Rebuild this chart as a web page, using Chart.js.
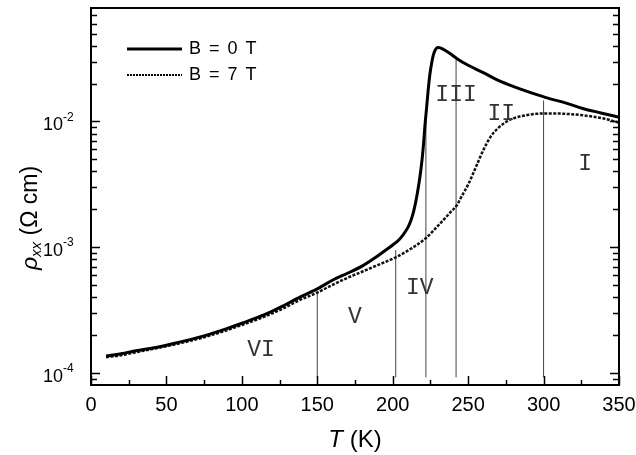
<!DOCTYPE html>
<html>
<head>
<meta charset="utf-8">
<script src="https://cdn.jsdelivr.net/npm/chart.js@4.4.0/dist/chart.umd.min.js"></script>
<style>
  html, body { margin: 0; background: #fff; }
  #wrap { width: 636px; height: 455px; }
</style>
</head>
<body>
<div id="wrap"><canvas id="rhoChart" width="636" height="455"></canvas></div>
<script>
// B = 0 T curve
const tempB0 = [10, 20, 30, 40, 50, 60, 75, 90, 100, 115, 125, 138.5, 150, 160, 170, 180, 190, 195, 200, 204, 207, 210, 212, 214, 216, 218, 219.4, 220.5, 221.4, 222.5, 223.4, 224.5, 226, 227, 228, 229, 230, 231, 233, 238, 242.6, 250, 260, 270, 282, 290, 301.6, 315, 326, 338, 350];
const rhoB0 = [1.36e-4, 1.42e-4, 1.5e-4, 1.57e-4, 1.66e-4, 1.77e-4, 1.97e-4, 2.25e-4, 2.48e-4, 2.9e-4, 3.3e-4, 4.0e-4, 4.65e-4, 5.45e-4, 6.2e-4, 7.1e-4, 8.5e-4, 9.4e-4, 1.04e-3, 1.14e-3, 1.26e-3, 1.43e-3, 1.62e-3, 1.95e-3, 2.55e-3, 3.6e-3, 4.9e-3, 6.8e-3, 9.4e-3, 1.3e-2, 1.72e-2, 2.3e-2, 3.0e-2, 3.4e-2, 3.66e-2, 3.82e-2, 3.88e-2, 3.87e-2, 3.78e-2, 3.47e-2, 3.16e-2, 2.8e-2, 2.45e-2, 2.12e-2, 1.86e-2, 1.72e-2, 1.55e-2, 1.4e-2, 1.27e-2, 1.17e-2, 1.08e-2];

// B = 7 T curve
const tempB7 = [10, 20, 30, 40, 50, 60, 75, 90, 100, 115, 125, 138.5, 150, 160, 170, 180, 190, 202, 212, 222, 230, 238, 243, 245, 250, 255, 260, 265, 270, 275, 280, 285, 290, 295, 301.6, 315, 326, 339, 350];
const rhoB7 = [1.33e-4, 1.38e-4, 1.46e-4, 1.54e-4, 1.63e-4, 1.73e-4, 1.92e-4, 2.18e-4, 2.4e-4, 2.8e-4, 3.15e-4, 3.8e-4, 4.35e-4, 5.0e-4, 5.7e-4, 6.4e-4, 7.2e-4, 8.3e-4, 9.7e-4, 1.18e-3, 1.48e-3, 1.88e-3, 2.2e-3, 2.45e-3, 3.15e-3, 4.3e-3, 5.9e-3, 7.6e-3, 8.9e-3, 9.9e-3, 1.06e-2, 1.1e-2, 1.13e-2, 1.15e-2, 1.16e-2, 1.15e-2, 1.12e-2, 1.06e-2, 9.8e-3];

// region boundaries (vertical lines)
const boundaryT = [150, 202, 222, 242, 300];
const boundaryTop = [4.3e-4, 9.5e-4, 1.22e-2, 3.1e-2, 1.47e-2];
const boundaryBottom = 9.2e-5;

// region labels
const regionNames = ['VI', 'V', 'IV', 'III', 'II', 'I'];
const regionT = [112.7, 175, 218, 242, 272, 327.5];
const regionRho = [1.52e-4, 2.78e-4, 4.73e-4, 1.64e-2, 1.14e-2, 4.56e-3];

const seriesNames = ['B = 0 T', 'B = 7 T'];
const xTickLabels = [0, 50, 100, 150, 200, 250, 300, 350];
const yDecades = [-4, -3, -2];
const xMin = 0, xMax = 350, yMin = 8e-5, yMax = 8e-2;

const toPoints = (xs, ys) => xs.map((x, i) => ({ x: x, y: ys[i] }));

const datasets = [
  {
    label: seriesNames[0],
    data: toPoints(tempB0, rhoB0),
    borderColor: '#000',
    borderWidth: 3,
    pointRadius: 0,
    cubicInterpolationMode: 'monotone'
  },
  {
    label: seriesNames[1],
    data: toPoints(tempB7, rhoB7),
    borderColor: '#111',
    borderWidth: 2.5,
    borderDash: [3, 1.5],
    pointRadius: 0,
    cubicInterpolationMode: 'monotone'
  }
];
boundaryT.forEach((t, i) => {
  datasets.push({
    label: 'boundary' + i,
    data: [{ x: t, y: boundaryBottom }, { x: t, y: boundaryTop[i] }],
    borderColor: '#444',
    borderWidth: 1,
    pointRadius: 0
  });
});

const sansFont = '"Liberation Sans", Arial, sans-serif';

const framePlugin = {
  id: 'frame',
  beforeDraw(chart) {
    const ctx = chart.ctx;
    ctx.save();
    ctx.fillStyle = '#fff';
    ctx.fillRect(0, 0, chart.width, chart.height);
    ctx.restore();
  },
  afterDraw(chart) {
    const ctx = chart.ctx;
    const a = chart.chartArea;
    const xs = chart.scales.x, ys = chart.scales.y;
    ctx.save();

    // box
    ctx.strokeStyle = '#000';
    ctx.lineWidth = 2;
    ctx.strokeRect(a.left, a.top, a.right - a.left, a.bottom - a.top);

    // x ticks (inward)
    ctx.lineWidth = 1.5;
    for (let v = xMin; v <= xMax; v += 25) {
      const px = Math.round(xs.getPixelForValue(v)) + 0.5;
      const len = v % 50 === 0 ? 9 : 5;
      ctx.beginPath();
      ctx.moveTo(px, a.bottom);
      ctx.lineTo(px, a.bottom - len);
      ctx.stroke();
    }
    // y ticks, left and right (inward)
    for (let d = -5; d <= -2; d++) {
      for (let m = 1; m <= 9; m++) {
        const v = m * Math.pow(10, d);
        if (v <= yMin * 1.001 || v >= yMax * 0.999) continue;
        const py = Math.round(ys.getPixelForValue(v)) + 0.5;
        const len = m === 1 ? 9 : 6;
        ctx.beginPath();
        ctx.moveTo(a.left, py);
        ctx.lineTo(a.left + len, py);
        ctx.moveTo(a.right, py);
        ctx.lineTo(a.right - len, py);
        ctx.stroke();
      }
    }

    // x tick labels
    ctx.fillStyle = '#000';
    ctx.font = '20px ' + sansFont;
    ctx.textAlign = 'center';
    ctx.textBaseline = 'middle';
    xTickLabels.forEach(v => {
      ctx.fillText(String(v), xs.getPixelForValue(v), 405);
    });

    // y tick labels 10^n
    yDecades.forEach(d => {
      const py = ys.getPixelForValue(Math.pow(10, d));
      ctx.font = '18px ' + sansFont;
      ctx.textAlign = 'right';
      ctx.textBaseline = 'middle';
      ctx.fillText('10', 63, py + 4);
      ctx.font = '12px ' + sansFont;
      ctx.textAlign = 'left';
      ctx.fillText('-' + Math.abs(d), 63, py - 4);
    });

    // x axis title: T (K)
    ctx.textBaseline = 'middle';
    ctx.font = 'italic 24px ' + sansFont;
    const wT = ctx.measureText('T').width;
    ctx.font = '24px ' + sansFont;
    const wK = ctx.measureText(' (K)').width;
    let x0 = (a.left + a.right) / 2 - (wT + wK) / 2;
    ctx.textAlign = 'left';
    ctx.font = 'italic 24px ' + sansFont;
    ctx.fillText('T', x0, 440);
    ctx.font = '24px ' + sansFont;
    ctx.fillText(' (K)', x0 + wT, 440);

    // y axis title: rho_xx (Ohm cm)
    ctx.save();
    ctx.translate(31, 218);
    ctx.rotate(-Math.PI / 2);
    ctx.font = 'italic 23px ' + sansFont;
    const wRho = ctx.measureText('\u03C1').width;
    ctx.font = 'italic 15px ' + sansFont;
    const wSub = ctx.measureText('xx').width;
    ctx.font = '23px ' + sansFont;
    const wUnit = ctx.measureText(' (\u03A9 cm)').width;
    let sx = -(wRho + wSub + wUnit) / 2;
    ctx.textAlign = 'left';
    ctx.font = 'italic 23px ' + sansFont;
    ctx.fillText('\u03C1', sx, 0);
    ctx.font = 'italic 15px ' + sansFont;
    ctx.fillText('xx', sx + wRho, 6);
    ctx.font = '23px ' + sansFont;
    ctx.fillText(' (\u03A9 cm)', sx + wRho + wSub, 0);
    ctx.restore();

    // legend
    ctx.lineWidth = 3;
    ctx.setLineDash([]);
    ctx.beginPath();
    ctx.moveTo(127, 49);
    ctx.lineTo(182, 49);
    ctx.stroke();
    ctx.lineWidth = 2;
    ctx.setLineDash([2, 1]);
    ctx.beginPath();
    ctx.moveTo(127, 75);
    ctx.lineTo(182, 75);
    ctx.stroke();
    ctx.setLineDash([]);
    ctx.font = '18px ' + sansFont;
    ctx.letterSpacing = '1.5px';
    ctx.textAlign = 'left';
    ctx.fillText(seriesNames[0], 189, 49);
    ctx.fillText(seriesNames[1], 189, 75);
    ctx.letterSpacing = '0px';

    // region labels
    ctx.fillStyle = '#333';
    ctx.font = '23px "Liberation Mono", "Courier New", monospace';
    ctx.textAlign = 'center';
    regionNames.forEach((name, i) => {
      ctx.fillText(name, xs.getPixelForValue(regionT[i]), ys.getPixelForValue(regionRho[i]));
    });

    ctx.restore();
  }
};

new Chart(document.getElementById('rhoChart'), {
  type: 'line',
  data: { datasets: datasets },
  options: {
    responsive: false,
    animation: false,
    layout: { padding: { left: 91, right: 17, top: 8, bottom: 70 } },
    plugins: { legend: { display: false }, tooltip: { enabled: false } },
    scales: {
      x: {
        type: 'linear', min: xMin, max: xMax,
        ticks: { display: false },
        grid: { display: false, drawTicks: false },
        border: { display: false }
      },
      y: {
        type: 'logarithmic', min: yMin, max: yMax,
        ticks: { display: false },
        grid: { display: false, drawTicks: false },
        border: { display: false }
      }
    }
  },
  plugins: [framePlugin]
});
</script>
</body>
</html>
